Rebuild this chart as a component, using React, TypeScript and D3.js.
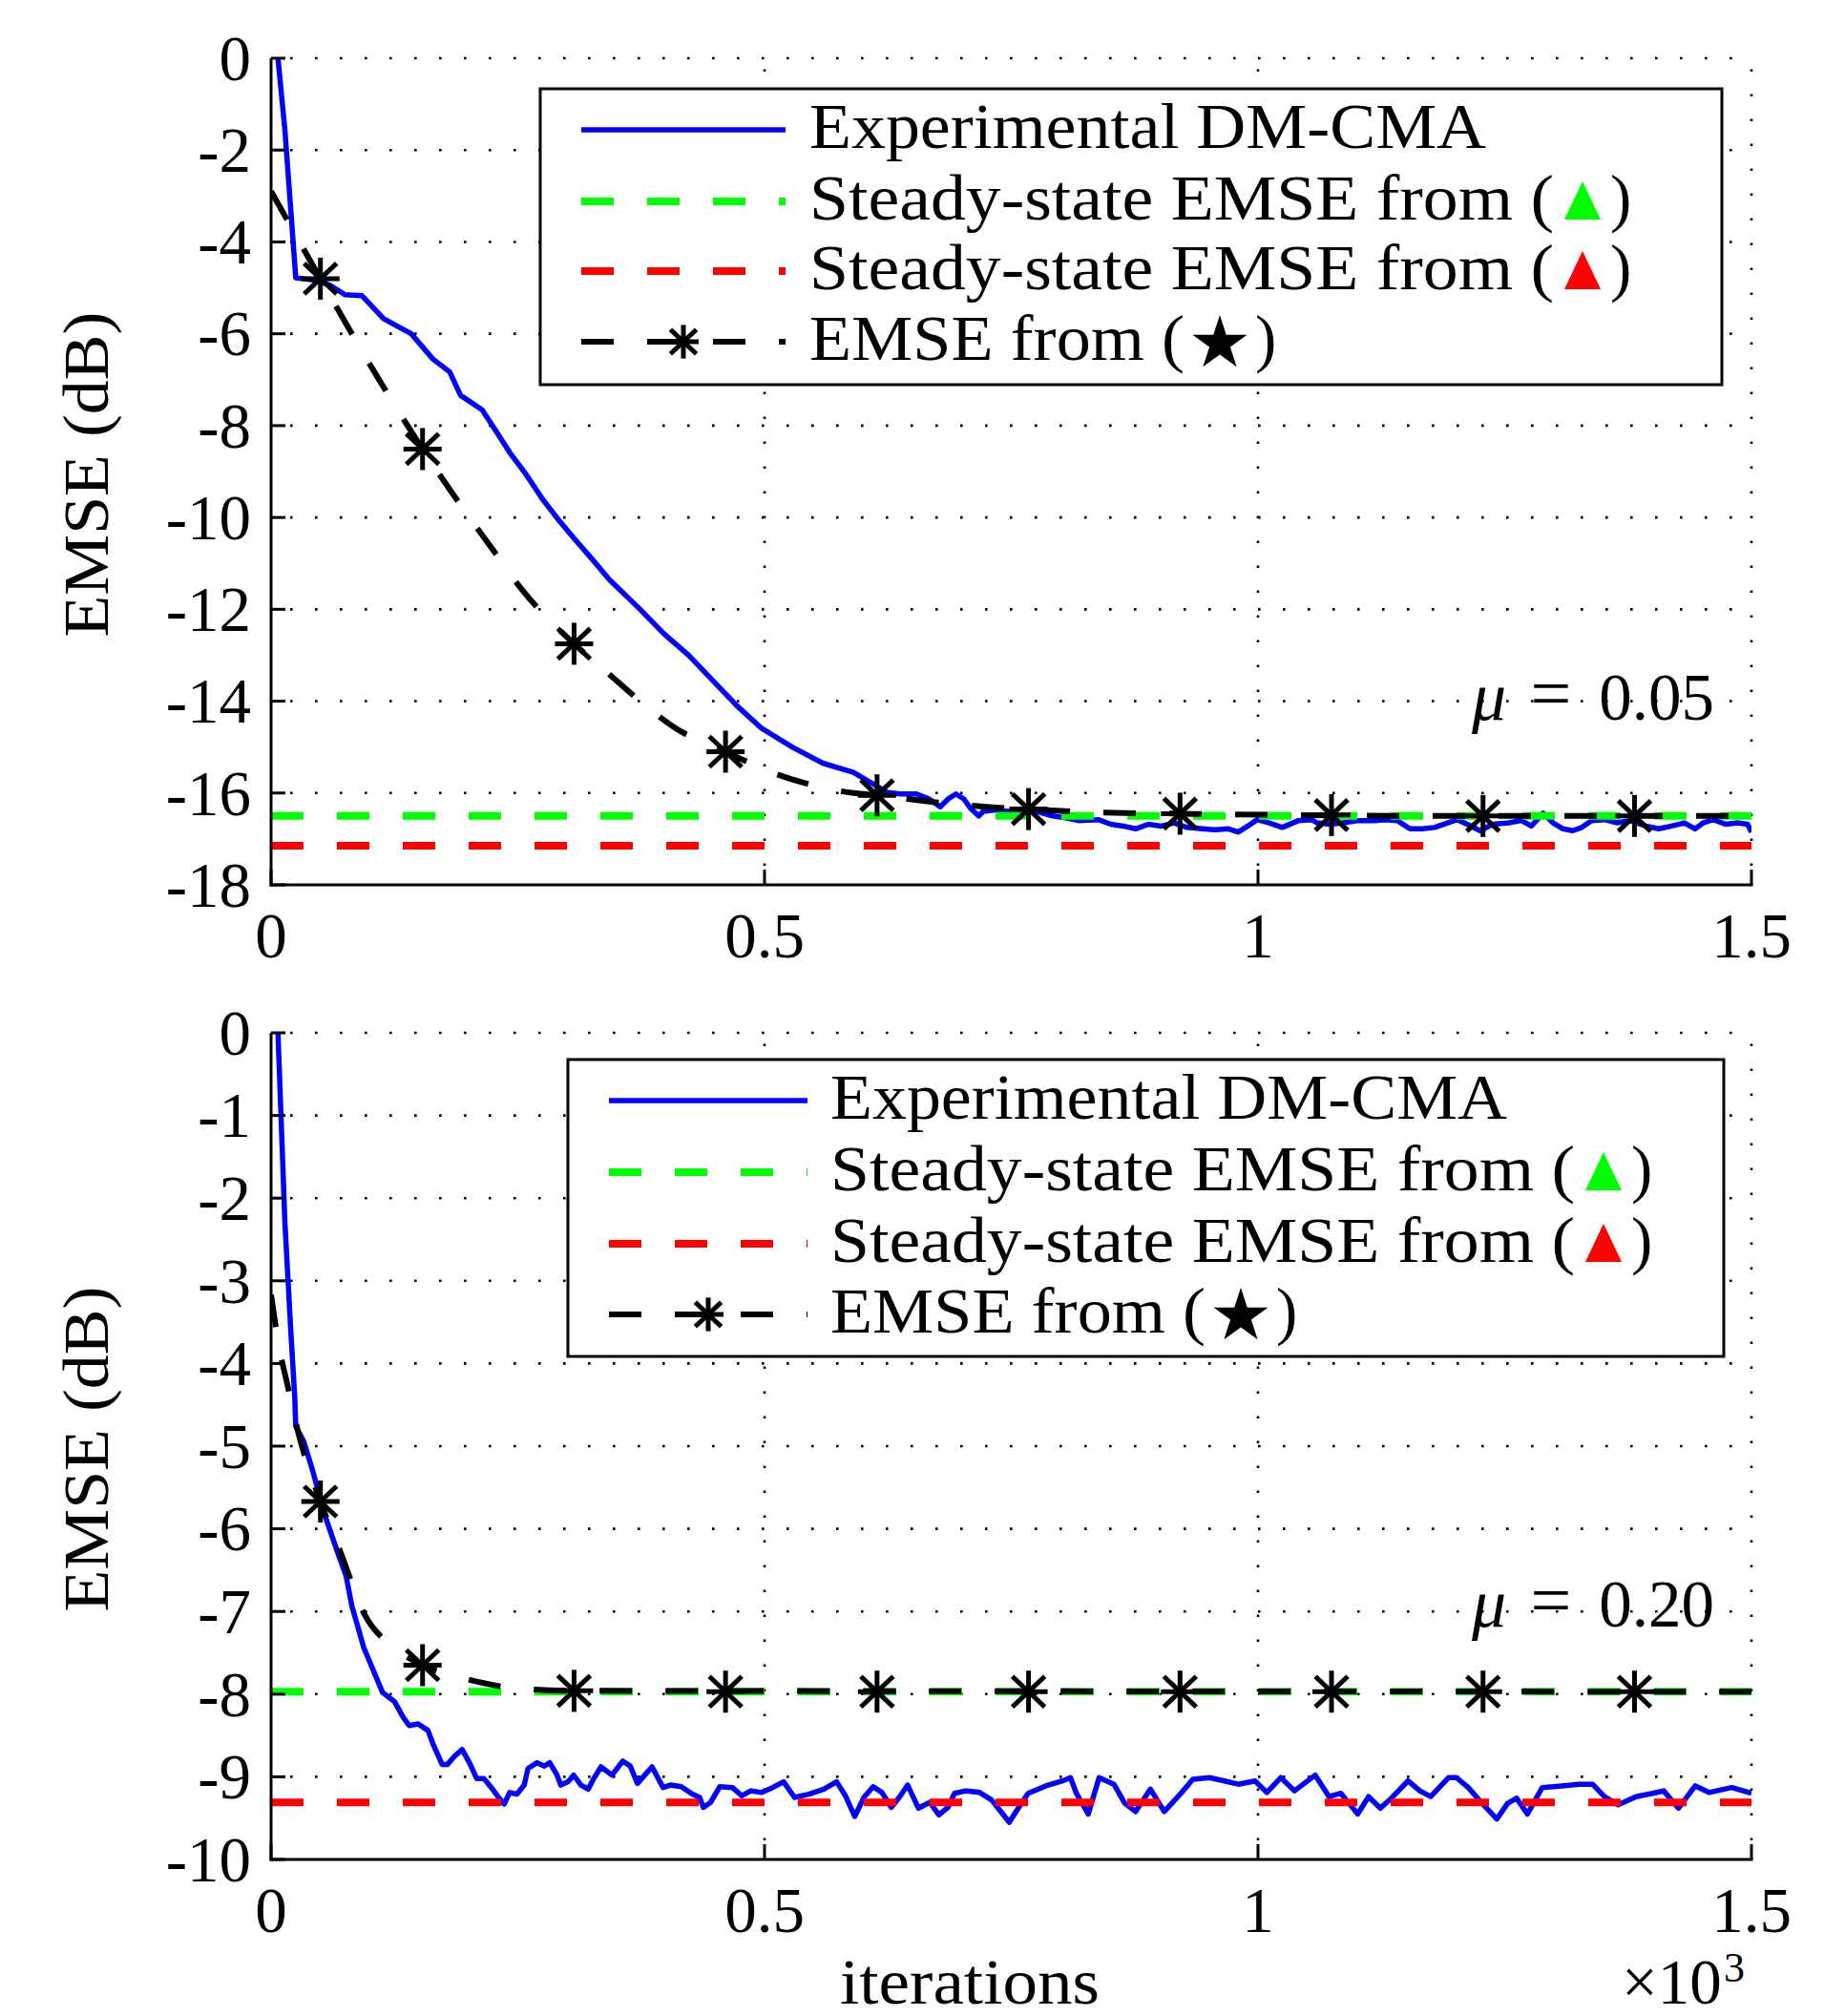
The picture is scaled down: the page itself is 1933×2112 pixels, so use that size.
import React from "react";
import * as d3 from "d3";

type Pt = [number, number];

const FONT = "'Liberation Serif', 'Times New Roman', serif";

// x axis (iterations, x10^3)
const xTicks = [0, 0.5, 1, 1.5];
const xTickLabels = ["0", "0.5", "1", "1.5"];

// top panel, mu = 0.05
const topYTicks = [0, -2, -4, -6, -8, -10, -12, -14, -16, -18];
const topYTickLabels = ["0", "-2", "-4", "-6", "-8", "-10", "-12", "-14", "-16", "-18"];

// bottom panel, mu = 0.20
const bottomYTicks = [0, -1, -2, -3, -4, -5, -6, -7, -8, -9, -10];
const bottomYTickLabels = ["0", "-1", "-2", "-3", "-4", "-5", "-6", "-7", "-8", "-9", "-10"];

const legendLabels = [
  "Experimental DM-CMA",
  "Steady-state EMSE from (",
  "Steady-state EMSE from (",
  "EMSE from (",
];

// experimental DM-CMA curves
const topExperimental: Pt[] = [
  [0.007, 0], [0.014, -1.56], [0.021, -3.6], [0.025, -4.78], [0.047, -4.84], [0.06, -4.95],
  [0.075, -5.15], [0.092, -5.17], [0.114, -5.67], [0.142, -6.0], [0.164, -6.55], [0.181, -6.83],
  [0.192, -7.34], [0.214, -7.66], [0.228, -8.12], [0.242, -8.59], [0.258, -9.05], [0.275, -9.6],
  [0.292, -10.07], [0.308, -10.48], [0.325, -10.9], [0.343, -11.36], [0.373, -11.98], [0.398, -12.53],
  [0.423, -13.0], [0.448, -13.56], [0.472, -14.1], [0.497, -14.59], [0.528, -15.0], [0.559, -15.35],
  [0.59, -15.55], [0.6248, -15.99], [0.6377, -16.02], [0.654, -16.02], [0.6667, -16.13], [0.678, -16.3],
  [0.686, -16.13], [0.694, -16.02], [0.702, -16.13], [0.7086, -16.33], [0.717, -16.5], [0.7215, -16.4],
  [0.734, -16.37], [0.747, -16.4], [0.76, -16.37], [0.776, -16.4], [0.792, -16.5], [0.805, -16.54],
  [0.818, -16.6], [0.838, -16.58], [0.851, -16.68], [0.8635, -16.72], [0.876, -16.78], [0.889, -16.68],
  [0.902, -16.72], [0.915, -16.65], [0.928, -16.75], [0.944, -16.78], [0.957, -16.8], [0.97, -16.78],
  [0.98, -16.85], [0.9897, -16.72], [0.999, -16.58], [1.0116, -16.65], [1.0245, -16.75], [1.041, -16.6],
  [1.054, -16.58], [1.06, -16.65], [1.073, -16.68], [1.086, -16.65], [1.102, -16.6], [1.118, -16.6],
  [1.129, -16.58], [1.141, -16.6], [1.154, -16.78], [1.166, -16.78], [1.179, -16.75], [1.192, -16.65],
  [1.202, -16.58], [1.212, -16.68], [1.225, -16.82], [1.238, -16.68], [1.254, -16.65], [1.267, -16.6],
  [1.277, -16.72], [1.289, -16.44], [1.299, -16.65], [1.309, -16.78], [1.319, -16.82], [1.328, -16.75],
  [1.338, -16.6], [1.351, -16.58], [1.364, -16.65], [1.377, -16.6], [1.393, -16.72], [1.406, -16.78],
  [1.419, -16.72], [1.432, -16.65], [1.443, -16.78], [1.451, -16.65], [1.461, -16.58], [1.474, -16.68],
  [1.486, -16.65], [1.496, -16.68], [1.5, -16.85],
];

const bottomExperimental: Pt[] = [
  [0.007, 0], [0.014, -2.29], [0.02, -3.61], [0.024, -4.41], [0.025, -4.76], [0.033, -4.94],
  [0.042, -5.29], [0.054, -5.82], [0.067, -6.27], [0.076, -6.57], [0.082, -6.94], [0.094, -7.44],
  [0.113, -7.98], [0.125, -8.09], [0.1344, -8.29], [0.1399, -8.38], [0.149, -8.36], [0.159, -8.44],
  [0.164, -8.6], [0.1733, -8.85], [0.1788, -8.85], [0.186, -8.75], [0.1936, -8.67], [0.201, -8.83],
  [0.2083, -9.02], [0.2157, -9.02], [0.2232, -9.13], [0.2306, -9.25], [0.2362, -9.33], [0.2417, -9.19],
  [0.2491, -9.21], [0.2565, -9.1], [0.2603, -8.9], [0.2695, -8.83], [0.277, -8.87], [0.2824, -8.83],
  [0.2898, -8.98], [0.2935, -9.1], [0.301, -9.06], [0.3065, -8.98], [0.314, -9.1], [0.3213, -9.15],
  [0.327, -9.02], [0.3343, -8.88], [0.3454, -8.98], [0.3564, -8.81], [0.3639, -8.87], [0.3713, -9.08],
  [0.3786, -8.98], [0.386, -8.88], [0.3972, -9.13], [0.4046, -9.1], [0.4157, -9.12], [0.4268, -9.21],
  [0.4342, -9.25], [0.438, -9.37], [0.4453, -9.31], [0.4546, -9.12], [0.4675, -9.13], [0.4768, -9.23],
  [0.486, -9.17], [0.4971, -9.19], [0.5082, -9.13], [0.5193, -9.06], [0.5304, -9.25], [0.545, -9.21],
  [0.56, -9.15], [0.573, -9.06], [0.582, -9.23], [0.5914, -9.48], [0.6007, -9.25], [0.61, -9.12],
  [0.619, -9.19], [0.6284, -9.37], [0.6377, -9.23], [0.645, -9.1], [0.656, -9.38], [0.6674, -9.31],
  [0.6766, -9.46], [0.686, -9.37], [0.6925, -9.2], [0.704, -9.17], [0.718, -9.19], [0.73, -9.28],
  [0.738, -9.4], [0.748, -9.55], [0.756, -9.4], [0.767, -9.2], [0.785, -9.11], [0.802, -9.05],
  [0.81, -9.01], [0.816, -9.2], [0.828, -9.45], [0.839, -9.01], [0.854, -9.09], [0.865, -9.32],
  [0.876, -9.42], [0.891, -9.15], [0.905, -9.42], [0.922, -9.2], [0.934, -9.03], [0.951, -9.01],
  [0.966, -9.05], [0.98, -9.09], [0.997, -9.05], [1.009, -9.19], [1.023, -9.01], [1.037, -9.17],
  [1.058, -8.98], [1.072, -9.24], [1.084, -9.2], [1.101, -9.45], [1.112, -9.24], [1.124, -9.38],
  [1.135, -9.26], [1.152, -9.05], [1.164, -9.17], [1.175, -9.24], [1.193, -9.01], [1.201, -9.01],
  [1.213, -9.13], [1.227, -9.32], [1.242, -9.51], [1.253, -9.32], [1.262, -9.26], [1.273, -9.45],
  [1.288, -9.13], [1.308, -9.11], [1.325, -9.09], [1.339, -9.09], [1.351, -9.24], [1.365, -9.34],
  [1.383, -9.24], [1.4, -9.2], [1.411, -9.17], [1.426, -9.38], [1.443, -9.11], [1.457, -9.19],
  [1.48, -9.13], [1.5, -9.2],
];

// steady-state levels (green and red triangles)
const topSteadyGreen = -16.5;
const topSteadyRed = -17.15;
const bottomSteadyGreen = -7.97;
const bottomSteadyRed = -9.31;

// theoretical EMSE curves (star)
const topTheory: Pt[] = [
  [0, -2.9], [0.025, -3.85], [0.05, -4.8], [0.108, -6.95], [0.1535, -8.51], [0.197, -9.88],
  [0.225, -10.71], [0.253, -11.54], [0.307, -12.75], [0.343, -13.42], [0.373, -13.98], [0.41, -14.59],
  [0.4605, -15.1], [0.506, -15.54], [0.54, -15.78], [0.59, -16.0], [0.614, -16.05], [0.673, -16.2],
  [0.738, -16.32], [0.7675, -16.35], [0.834, -16.42], [0.921, -16.45], [1.037, -16.48], [1.2, -16.5],
  [1.5, -16.5],
];
const bottomTheory: Pt[] = [
  [0, -3.17], [0.008, -3.79], [0.017, -4.28], [0.027, -4.81], [0.05, -5.67], [0.07, -6.27],
  [0.094, -7.02], [0.125, -7.44], [0.1535, -7.65], [0.199, -7.82], [0.242, -7.92], [0.307, -7.96],
  [1.5, -7.97],
];

const markerIters = [0.05, 0.1535, 0.307, 0.4605, 0.614, 0.7675, 0.921, 1.0745, 1.228, 1.3815];
const topMarkerValues = [-4.8, -8.51, -12.75, -15.1, -16.05, -16.35, -16.45, -16.48, -16.5, -16.5];
const bottomMarkerValues = [-5.67, -7.65, -7.96, -7.97, -7.97, -7.97, -7.97, -7.97, -7.97, -7.97];

const X0 = 284;
const X1 = 1835;
const DASH = "34 35";

const Asterisk = ({ x, y, s = 1 }: { x: number; y: number; s?: number }) => (
  <g transform={`translate(${x},${y})`} stroke="#000" strokeWidth={5} strokeLinecap="butt">
    <line x1={0} y1={-22 * s} x2={0} y2={22 * s} />
    <line x1={-20 * s} y1={0} x2={20 * s} y2={0} />
    <line x1={-17 * s} y1={-16 * s} x2={17 * s} y2={16 * s} />
    <line x1={-17 * s} y1={16 * s} x2={17 * s} y2={-16 * s} />
  </g>
);

const starPath = (cx: number, cy: number, R: number) => {
  const r = R * 0.382;
  const pts = d3.range(10).map((i) => {
    const a = -Math.PI / 2 + (i * Math.PI) / 5;
    const rad = i % 2 === 0 ? R : r;
    return [cx + rad * Math.cos(a), cy + rad * Math.sin(a)];
  });
  return "M" + pts.map((p) => p.join(",")).join("L") + "Z";
};

const Legend = ({ box, textX, rows, sx0, sx1 }) => {
  const [bx, by, bw, bh] = box;
  const tri = (cx: number, rowY: number, fill: string) => (
    <path d={`M${cx - 19},${rowY + 19}L${cx + 19},${rowY + 19}L${cx},${rowY - 21}Z`} fill={fill} />
  );
  const textProps = { fontFamily: FONT, fontSize: 67, fill: "#000", lengthAdjust: "spacingAndGlyphs" };
  return (
    <g>
      <rect x={bx} y={by} width={bw} height={bh} fill="#fff" stroke="#000" strokeWidth={3} />
      <line x1={sx0} x2={sx1} y1={rows[0]} y2={rows[0]} stroke="#0000ff" strokeWidth={5.5} />
      <line x1={sx0} x2={sx1} y1={rows[1]} y2={rows[1]} stroke="#00ff00" strokeWidth={8} strokeDasharray={DASH} />
      <line x1={sx0} x2={sx1} y1={rows[2]} y2={rows[2]} stroke="#ff0000" strokeWidth={8} strokeDasharray={DASH} />
      <line x1={sx0} x2={sx1} y1={rows[3]} y2={rows[3]} stroke="#000" strokeWidth={6} strokeDasharray={DASH} />
      <Asterisk x={(sx0 + sx1) / 2} y={rows[3]} s={0.8} />
      <text x={textX} y={rows[0] + 19} textLength={709} {...textProps}>{legendLabels[0]}</text>
      <text x={textX} y={rows[1] + 19} textLength={780} {...textProps}>{legendLabels[1]}</text>
      {tri(textX + 810, rows[1], "#00ff00")}
      <text x={textX + 839} y={rows[1] + 19} {...textProps}>)</text>
      <text x={textX} y={rows[2] + 19} textLength={780} {...textProps}>{legendLabels[2]}</text>
      {tri(textX + 810, rows[2], "#ff0000")}
      <text x={textX + 839} y={rows[2] + 19} {...textProps}>)</text>
      <text x={textX} y={rows[3] + 19} textLength={393} {...textProps}>{legendLabels[3]}</text>
      <path d={starPath(textX + 430, rows[3] + 2, 30)} fill="#000" />
      <text x={textX + 467} y={rows[3] + 19} {...textProps}>)</text>
    </g>
  );
};

const Panel = ({
  yTop, yBot, yMin, yTicks, yLabels, experimental, green, red, theory, markerValues,
  legend, muText, muY, id,
}) => {
  const x = d3.scaleLinear().domain([0, 1.5]).range([X0, X1]);
  const y = d3.scaleLinear().domain([yMin, 0]).range([yBot, yTop]);
  const line = d3.line<Pt>().x((d) => x(d[0])).y((d) => y(d[1]));
  const smooth = d3.line<Pt>().x((d) => x(d[0])).y((d) => y(d[1])).curve(d3.curveMonotoneX);

  return (
    <g>
      <defs>
        <clipPath id={id}>
          <rect x={X0} y={yTop - 3} width={X1 - X0} height={yBot - yTop + 3} />
        </clipPath>
      </defs>
      {/* dotted grid */}
      {yTicks.filter((t) => t !== yMin).map((t) => (
        <line key={"h" + t} x1={X0} x2={X1} y1={y(t)} y2={y(t)} stroke="#000" strokeWidth={2.6}
          strokeDasharray="2.6 23.4" strokeDashoffset={6} />
      ))}
      {xTicks.filter((t) => t > 0).map((t) => (
        <line key={"v" + t} x1={x(t)} x2={x(t)} y1={yBot} y2={yTop} stroke="#000" strokeWidth={2.6}
          strokeDasharray="2.6 23.4" strokeDashoffset={6} />
      ))}
      <g clipPath={`url(#${id})`} fill="none">
        <path d={line(experimental)} stroke="#0000ff" strokeWidth={5.5} strokeLinejoin="round" />
        <line x1={x(0)} x2={x(1.5)} y1={y(green)} y2={y(green)} stroke="#00ff00" strokeWidth={8} strokeDasharray={DASH} />
        <line x1={x(0)} x2={x(1.5)} y1={y(red)} y2={y(red)} stroke="#ff0000" strokeWidth={8} strokeDasharray={DASH} />
        <path d={smooth(theory)} stroke="#000" strokeWidth={6} strokeDasharray={DASH} />
      </g>
      {markerIters.map((t, i) => (
        <Asterisk key={i} x={x(t)} y={y(markerValues[i])} />
      ))}
      {/* axes */}
      <line x1={X0} x2={X0} y1={yTop} y2={yBot + 1.5} stroke="#000" strokeWidth={3} />
      <line x1={X0 - 1.5} x2={X1 + 1.5} y1={yBot} y2={yBot} stroke="#000" strokeWidth={3} />
      {yTicks.map((t) => (
        <line key={"yt" + t} x1={X0} x2={X0 + 15} y1={y(t)} y2={y(t)} stroke="#000" strokeWidth={3} />
      ))}
      {xTicks.map((t) => (
        <line key={"xt" + t} x1={x(t)} x2={x(t)} y1={yBot} y2={yBot - 16} stroke="#000" strokeWidth={3} />
      ))}
      {yTicks.map((t, i) => (
        <text key={"yl" + t} x={X0 - 21} y={y(t)} dy="0.34em" textAnchor="end" fontFamily={FONT} fontSize={67}>
          {yLabels[i]}
        </text>
      ))}
      {xTicks.map((t, i) => (
        <text key={"xl" + t} x={x(t)} y={yBot + 76} textAnchor="middle" fontFamily={FONT} fontSize={67}>
          {xTickLabels[i]}
        </text>
      ))}
      <text transform={`translate(113,${(yTop + yBot) / 2 + 3}) rotate(-90)`} textAnchor="middle"
        fontFamily={FONT} fontSize={67} textLength={341} lengthAdjust="spacingAndGlyphs">
        EMSE (dB)
      </text>
      <g fontFamily={FONT}>
        <text x={1542} y={y(muY)} fontSize={72} fontStyle="italic">μ</text>
        <text x={1625} y={y(muY) - 2} fontSize={76} textAnchor="middle">=</text>
        <text x={1796} y={y(muY)} fontSize={69} textAnchor="end">{muText}</text>
      </g>
      <Legend {...legend} />
    </g>
  );
};

export default function App() {
  return (
    <svg width={1933} height={2112} style={{ position: "absolute", left: 0, top: 0, background: "#fff" }}>
      <rect width={1933} height={2112} fill="#fff" />
      <Panel
        id="clipTop"
        yTop={61}
        yBot={927}
        yMin={-18}
        yTicks={topYTicks}
        yLabels={topYTickLabels}
        experimental={topExperimental}
        green={topSteadyGreen}
        red={topSteadyRed}
        theory={topTheory}
        markerValues={topMarkerValues}
        muText="0.05"
        muY={-14.4}
        legend={{ box: [566, 93, 1238, 310], textX: 848, rows: [136, 211, 284, 358], sx0: 609, sx1: 823 }}
      />
      <Panel
        id="clipBottom"
        yTop={1082}
        yBot={1948}
        yMin={-10}
        yTicks={bottomYTicks}
        yLabels={bottomYTickLabels}
        experimental={bottomExperimental}
        green={bottomSteadyGreen}
        red={bottomSteadyRed}
        theory={bottomTheory}
        markerValues={bottomMarkerValues}
        muText="0.20"
        muY={-7.18}
        legend={{ box: [595, 1110, 1211, 311], textX: 870, rows: [1153, 1228, 1303, 1377], sx0: 638, sx1: 846 }}
      />
      <text x={1016} y={2099} textAnchor="middle" fontFamily={FONT} fontSize={67} textLength={272}
        lengthAdjust="spacingAndGlyphs">
        iterations
      </text>
      <text x={1699} y={2099} fontFamily={FONT} fontSize={67}>
        ×10
      </text>
      <text x={1806} y={2076} fontFamily={FONT} fontSize={44}>
        3
      </text>
    </svg>
  );
}
